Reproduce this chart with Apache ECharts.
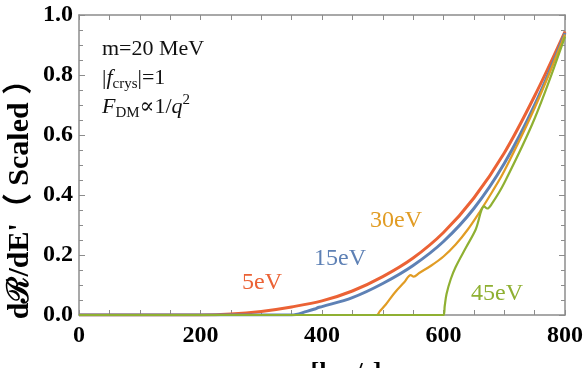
<!DOCTYPE html>
<html>
<head>
<meta charset="utf-8">
<script src="https://cdn.jsdelivr.net/npm/echarts@6/dist/echarts.min.js"></script>
<style>
  html, body { margin: 0; padding: 0; background: #fff; }
  #main { width: 586px; height: 368px; }
</style>
</head>
<body>
<div id="main"></div>
<script>
// velocities [km/s] and scaled rates
const v5 = [0, 100, 200, 250, 300, 350, 400, 450, 500, 550, 600, 650, 700, 750, 800]
const r5 = [0, 0, 0, 0.003, 0.012, 0.027, 0.047, 0.08, 0.128, 0.19, 0.275, 0.39, 0.54, 0.73, 0.945]

const v15 = [0, 200, 350, 375, 388, 394, 400, 450, 500, 550, 600, 650, 700, 750, 800]
const r15 = [0, 0, 0, 0.012, 0.02, 0.025, 0.028, 0.058, 0.105, 0.165, 0.245, 0.355, 0.505, 0.7, 0.94]

const v30 = [0, 300, 490, 495, 505, 520, 535, 546, 551, 560, 580, 600, 620, 640, 660, 680, 700, 750, 800]
const r30 = [0, 0, 0, 0.012, 0.035, 0.075, 0.108, 0.133, 0.128, 0.14, 0.165, 0.195, 0.235, 0.285, 0.345, 0.41, 0.48, 0.69, 0.935]

const v45 = [0, 400, 600, 602, 605, 612, 620, 637, 653, 667, 672, 680, 700, 750, 800]
const r45 = [0, 0, 0, 0.03, 0.07, 0.12, 0.16, 0.225, 0.285, 0.362, 0.355, 0.372, 0.44, 0.655, 0.928]

const xTicks = [0, 200, 400, 600, 800]
const yTicks = [0, 0.2, 0.4, 0.6, 0.8, 1.0]

const serif = '"Liberation Serif", "DejaVu Serif", "Noto Sans CJK SC", serif'
const frame = '#8c8c8c'

const pairs = (xs, ys) => xs.map((x, i) => [x, ys[i]])

const chartDom = document.getElementById('main')
const myChart = echarts.init(chartDom)

const baseX = {
  type: 'value',
  min: xTicks[0],
  max: xTicks[xTicks.length - 1],
  interval: 200,
  axisLine: { show: true, onZero: false, lineStyle: { color: frame, width: 1.5 } },
  axisTick: { show: true, inside: true, length: 5, lineStyle: { color: frame } },
  minorTick: { show: true, splitNumber: 4, length: 5, lineStyle: { color: frame } },
  splitLine: { show: false },
  minorSplitLine: { show: false }
}
const baseY = {
  type: 'value',
  min: yTicks[0],
  max: yTicks[yTicks.length - 1],
  interval: 0.2,
  axisLine: { show: true, onZero: false, lineStyle: { color: frame, width: 1.5 } },
  axisTick: { show: true, inside: true, length: 6, lineStyle: { color: frame } },
  minorTick: { show: true, splitNumber: 4, length: 4, lineStyle: { color: frame } },
  splitLine: { show: false },
  minorSplitLine: { show: false }
}

const curve = (name, xs, ys, color, width) => ({
  name,
  type: 'line',
  data: pairs(xs, ys),
  showSymbol: false,
  smooth: 0.35,
  lineStyle: { color, width },
  itemStyle: { color },
  silent: true
})

const option = {
  animation: false,
  grid: { left: 79, right: 20, top: 15, bottom: 53 },
  xAxis: [
    Object.assign({}, baseX, {
      position: 'bottom',
      axisLabel: { fontFamily: serif, fontWeight: 'bold', fontSize: 24, color: '#000', margin: 9 }
    }),
    Object.assign({}, baseX, { position: 'top', axisLabel: { show: false } })
  ],
  yAxis: [
    Object.assign({}, baseY, {
      position: 'left',
      axisLabel: {
        fontFamily: serif, fontWeight: 'bold', fontSize: 24, color: '#000', margin: 6,
        formatter: v => v.toFixed(1)
      }
    }),
    Object.assign({}, baseY, { position: 'right', axisLabel: { show: false } })
  ],
  series: [
    curve('5eV', v5, r5, '#EB6235', 3),
    curve('15eV', v15, r15, '#5E81B5', 3),
    curve('30eV', v30, r30, '#E19C24', 2.2),
    curve('45eV', v45, r45, '#8FB032', 2.2)
  ],
  graphic: [
    // y axis title
    {
      type: 'text', x: 20, y: 192, rotation: Math.PI / 2,
      style: {
        text: "dℛ/dE'（ Scaled ）", fontFamily: serif, fontWeight: 'bold', fontSize: 30,
        fill: '#000', align: 'center', verticalAlign: 'middle'
      }
    },
    // x axis title, cut by the bottom edge
    {
      type: 'text', x: 346, y: 360,
      style: {
        text: '[km/s]', fontFamily: serif, fontWeight: 'bold', fontSize: 26,
        fill: '#000', align: 'center', verticalAlign: 'top'
      }
    },
    // curve labels
    { type: 'text', x: 262, y: 283, style: { text: '5eV', fontFamily: serif, fontSize: 24, fill: '#EB6235', align: 'center', verticalAlign: 'middle' } },
    { type: 'text', x: 340, y: 259, style: { text: '15eV', fontFamily: serif, fontSize: 24, fill: '#5E81B5', align: 'center', verticalAlign: 'middle' } },
    { type: 'text', x: 396, y: 221, style: { text: '30eV', fontFamily: serif, fontSize: 24, fill: '#E19C24', align: 'center', verticalAlign: 'middle' } },
    { type: 'text', x: 497, y: 294, style: { text: '45eV', fontFamily: serif, fontSize: 24, fill: '#8FB032', align: 'center', verticalAlign: 'middle' } },
    // parameter box
    { type: 'text', x: 102, y: 49, style: { text: 'm=20 MeV', fontFamily: serif, fontSize: 22, fill: '#111', verticalAlign: 'middle' } },
    {
      type: 'text', x: 102, y: 78,
      style: {
        text: '{n||}{i|f}{s|crys}{n||=1}', fontFamily: serif, fontSize: 22, fill: '#111', verticalAlign: 'middle',
        rich: {
          n: { fontFamily: serif, fontSize: 22, fill: '#111', lineHeight: 28 },
          i: { fontFamily: serif, fontSize: 22, fontStyle: 'italic', fill: '#111', lineHeight: 28 },
          s: { fontFamily: serif, fontSize: 15, fill: '#111', lineHeight: 28, verticalAlign: 'bottom', padding: [8, 0, 0, 0] }
        }
      }
    },
    {
      type: 'text', x: 102, y: 107,
      style: {
        text: '{i|F}{s|DM}{n|∝1/}{i|q}{p|2}', fontFamily: serif, fontSize: 22, fill: '#111', verticalAlign: 'middle',
        rich: {
          n: { fontFamily: serif, fontSize: 22, fill: '#111', lineHeight: 28 },
          i: { fontFamily: serif, fontSize: 22, fontStyle: 'italic', fill: '#111', lineHeight: 28 },
          s: { fontFamily: serif, fontSize: 15, fill: '#111', lineHeight: 28, verticalAlign: 'bottom', padding: [8, 0, 0, 0] },
          p: { fontFamily: serif, fontSize: 15, fill: '#111', lineHeight: 28, verticalAlign: 'top', padding: [0, 0, 8, 0] }
        }
      }
    }
  ]
}

option && myChart.setOption(option)
</script>
</body>
</html>
